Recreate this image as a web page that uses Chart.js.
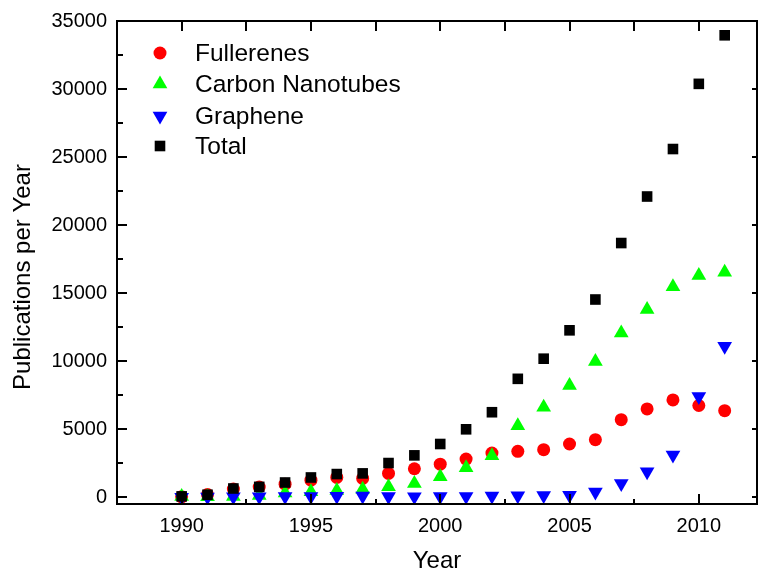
<!DOCTYPE html>
<html>
<head>
<meta charset="utf-8">
<script src="https://cdn.jsdelivr.net/npm/chart.js@4/dist/chart.umd.min.js"></script>
<style>
  html, body { margin: 0; padding: 0; background: #fff; overflow: hidden; }
  canvas { display: block; }
</style>
</head>
<body>
<canvas id="pubChart" width="758" height="571"></canvas>
<script>
// publication counts per year
const years = [1990, 1991, 1992, 1993, 1994, 1995, 1996, 1997, 1998, 1999, 2000,
               2001, 2002, 2003, 2004, 2005, 2006, 2007, 2008, 2009, 2010, 2011];
const fullerenes = [30, 200, 600, 750, 960, 1250, 1450, 1380, 1750, 2090, 2430,
                    2800, 3240, 3370, 3490, 3910, 4230, 5700, 6490, 7150, 6740, 6360];
const nanotubes = [50, 30, 60, 120, 300, 400, 500, 590, 760, 1010, 1500,
                   2160, 3050, 5260, 6620, 8210, 9980, 12070, 13790, 15460, 16300, 16540];
const graphene = [0, 20, 30, 40, 50, 60, 70, 80, 50, 40, 50,
                  60, 80, 100, 120, 150, 390, 1000, 1870, 3100, 7400, 11090];
const total = [60, 180, 640, 760, 1080, 1450, 1700, 1750, 2510, 3075, 3910,
               4990, 6245, 8700, 10180, 12265, 14530, 18680, 22100, 25590, 30380, 33950];

const xTicks = [1990, 1995, 2000, 2005, 2010];
const yTicks = [0, 5000, 10000, 15000, 20000, 25000, 30000, 35000];
const seriesNames = ['Fullerenes', 'Carbon Nanotubes', 'Graphene', 'Total'];

const FONT = 'Arial, "Liberation Sans", sans-serif';

function pts(vals) {
    return years.map((y, i) => ({ x: y, y: vals[i] }));
}

// frame, inward ticks, axis titles and legend
const framePlugin = {
    id: 'frame',
    afterDraw(chart) {
        const ctx = chart.ctx;
        const a = chart.chartArea;
        const xs = chart.scales.x, ys = chart.scales.y;
        ctx.save();
        ctx.strokeStyle = '#000';
        ctx.lineWidth = 2;
        ctx.strokeRect(a.left, a.top, a.right - a.left, a.bottom - a.top);

        ctx.beginPath();
        // x ticks every 2.5 years
        for (let v = 1987.5; v <= 2012.25; v += 2.5) {
            const px = Math.round(xs.getPixelForValue(v));
            if (px <= a.left + 1 || px >= a.right - 1) continue;
            const major = v % 5 === 0;
            ctx.moveTo(px, a.bottom);
            ctx.lineTo(px, a.bottom - (major ? 10 : 5));
            ctx.moveTo(px, a.top);
            ctx.lineTo(px, a.top + 10);
        }
        // y ticks every 2500
        for (let v = 0; v <= 35000; v += 2500) {
            const py = Math.round(ys.getPixelForValue(v));
            const major = v % 5000 === 0;
            ctx.moveTo(a.left, py);
            ctx.lineTo(a.left + (major ? 10 : 6), py);
            if (major) {
                ctx.moveTo(a.right, py);
                ctx.lineTo(a.right - 5, py);
            }
        }
        ctx.stroke();

        // axis titles
        ctx.fillStyle = '#000';
        ctx.font = '24px ' + FONT;
        ctx.textAlign = 'center';
        ctx.textBaseline = 'middle';
        ctx.fillText('Year', (a.left + a.right) / 2, 561);
        ctx.save();
        ctx.translate(23, 277);
        ctx.rotate(-Math.PI / 2);
        ctx.fillText('Publications per Year', 0, 0);
        ctx.restore();

        // legend
        const ds = chart.data.datasets;
        const rows = [53, 84, 116, 146];
        ctx.textAlign = 'left';
        ctx.font = '24.5px ' + FONT;
        ds.forEach((d, i) => {
            const y = rows[i];
            ctx.fillStyle = d.backgroundColor;
            ctx.strokeStyle = d.backgroundColor;
            Chart.helpers.drawPoint(ctx, {
                pointStyle: d.pointStyle,
                rotation: d.rotation || 0,
                radius: d.pointRadius,
                borderWidth: 0
            }, 160, y);
            ctx.fillStyle = '#000';
            ctx.fillText(seriesNames[i], 195, y + 1);
        });
        ctx.restore();
    }
};

new Chart(document.getElementById('pubChart'), {
    type: 'scatter',
    data: {
        datasets: [
            { label: seriesNames[0], data: pts(fullerenes), pointStyle: 'circle', pointRadius: 6.5,
              backgroundColor: '#ff0000', borderColor: '#ff0000', borderWidth: 0, order: 4 },
            { label: seriesNames[1], data: pts(nanotubes), pointStyle: 'triangle', pointRadius: 8.5,
              backgroundColor: '#00ff00', borderColor: '#00ff00', borderWidth: 0, order: 3 },
            { label: seriesNames[2], data: pts(graphene), pointStyle: 'triangle', rotation: 180, pointRadius: 8.5,
              backgroundColor: '#0000ff', borderColor: '#0000ff', borderWidth: 0, order: 2 },
            { label: seriesNames[3], data: pts(total), pointStyle: 'rect', pointRadius: 7.5,
              backgroundColor: '#000000', borderColor: '#000000', borderWidth: 0, order: 1 }
        ]
    },
    options: {
        responsive: false,
        animation: false,
        layout: { autoPadding: false, padding: { top: 21, right: 1, left: 0, bottom: 0 } },
        plugins: { legend: { display: false }, tooltip: { enabled: false } },
        scales: {
            x: {
                type: 'linear',
                min: 1987.5,
                max: 2012.25,
                grid: { display: false, drawTicks: false },
                border: { display: false },
                afterBuildTicks: s => { s.ticks = xTicks.map(v => ({ value: v })); },
                afterFit: s => { s.height = 67; s.paddingLeft = 0; s.paddingRight = 0; },
                ticks: { color: '#000', font: { family: FONT, size: 20 }, padding: 10,
                         maxRotation: 0, callback: v => String(v) }
            },
            y: {
                min: -500,
                max: 35000,
                grid: { display: false, drawTicks: false },
                border: { display: false },
                afterBuildTicks: s => { s.ticks = yTicks.map(v => ({ value: v })); },
                afterFit: s => { s.width = 117; s.paddingTop = 0; s.paddingBottom = 0; },
                ticks: { color: '#000', font: { family: FONT, size: 20 }, padding: 10,
                         callback: v => String(v) }
            }
        }
    },
    plugins: [framePlugin]
});
</script>
</body>
</html>
